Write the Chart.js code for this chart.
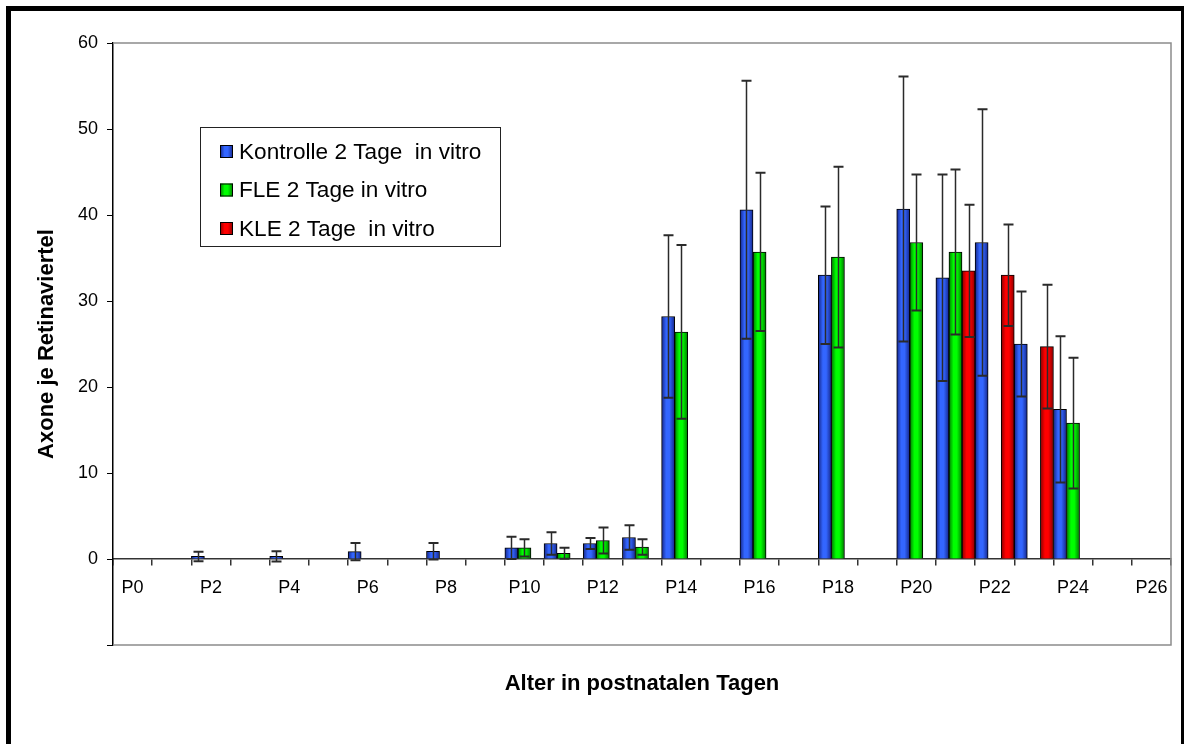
<!DOCTYPE html>
<html>
<head>
<meta charset="utf-8">
<script src="https://cdn.jsdelivr.net/npm/chart.js@4/dist/chart.umd.min.js"></script>
<style>
html, body { margin: 0; padding: 0; background: #fff; }
</style>
</head>
<body>
<canvas id="grafico" width="1184" height="744"></canvas>
<script>
// Kategorien: postnatale Tage P0..P26
var tage = ['P0','P1','P2','P3','P4','P5','P6','P7','P8','P9','P10','P11','P12','P13',
            'P14','P15','P16','P17','P18','P19','P20','P21','P22','P23','P24','P25','P26'];

// Mittelwerte (Axone je Retinaviertel)
var kontrolle = [0, null, 0.3, null, 0.3, null, 0.85, null, 0.9, null, 1.3, 1.8, 1.8, 2.5,
                 28.2, null, 40.6, null, 33.0, null, 40.7, 32.7, 36.8, 25.0, 17.4, null, null];
var fle       = [null, null, null, null, null, null, null, null, null, null, 1.3, 0.67, 2.15, 1.4,
                 26.4, null, 35.7, null, 35.1, null, 36.8, 35.7, null, null, 15.8, null, null];
var kle       = [null, null, null, null, null, null, null, null, null, null, null, null, null, null,
                 null, null, null, null, null, null, null, 33.5, 33.0, 24.7, null, null, null];

// Standardabweichungen
var kontrolleFehler = [0, null, 0.55, null, 0.6, null, 1.0, null, 0.95, null, 1.3, 1.3, 0.63, 1.43,
                       9.45, null, 15.0, null, 8.0, null, 15.4, 12.0, 15.5, 6.1, 8.5, null, null];
var fleFehler       = [null, null, null, null, null, null, null, null, null, null, 1.0, 0.65, 1.5, 0.9,
                       10.1, null, 9.2, null, 10.5, null, 7.9, 9.6, null, null, 7.6, null, null];
var kleFehler       = [null, null, null, null, null, null, null, null, null, null, null, null, null, null,
                       null, null, null, null, null, null, null, 7.7, 5.9, 7.2, null, null, null];

var yTicks = [-10, 0, 10, 20, 30, 40, 50, 60];

var schrift = 'Liberation Sans, Arial, sans-serif';
var farben = [
    { dunkel: '#15268a', hell: '#3366ff' },
    { dunkel: '#007a00', hell: '#00ff00' },
    { dunkel: '#8a0000', hell: '#ff0000' }
];

function verlauf(ctx, links, breite, f){
    var g = ctx.createLinearGradient(links, 0, links + breite, 0);
    g.addColorStop(0, f.dunkel);
    g.addColorStop(0.35, f.hell);
    g.addColorStop(0.6, f.hell);
    g.addColorStop(1, f.dunkel);
    return g;
}

function balkenFarbe(f){
    return function(context){
        var chart = context.chart;
        var x = chart.scales.x;
        if(!x || context.type !== 'data' || !x.width) return f.hell;
        var kat = x.width / tage.length;
        var breite = kat / 3;
        var links = x.getPixelForValue(context.dataIndex) - kat/2 + context.datasetIndex*breite;
        return verlauf(chart.ctx, links, breite, f);
    };
}

var hintergrund = {
    id: 'hintergrund',
    beforeDraw(chart){
        var ctx = chart.ctx;
        ctx.save();
        ctx.fillStyle = '#fff';
        ctx.fillRect(0, 0, chart.width, chart.height);
        ctx.restore();
    }
};

var fehlerbalken = {
    id: 'fehlerbalken',
    afterDatasetsDraw(chart){
        var ctx = chart.ctx, y = chart.scales.y;
        var fehler = [kontrolleFehler, fleFehler, kleFehler];
        ctx.save();
        ctx.strokeStyle = '#2a2a2a';
        fehler.forEach(function(reihe, d){
            var meta = chart.getDatasetMeta(d);
            meta.data.forEach(function(bar, i){
                var wert = chart.data.datasets[d].data[i];
                if(wert === null || reihe[i] === null || !reihe[i]) return;
                var oben = y.getPixelForValue(wert + reihe[i]);
                var unten = y.getPixelForValue(wert - reihe[i]);
                var xm = Math.round(bar.x) + 0.5;
                ctx.lineWidth = 1.5;
                ctx.beginPath();
                ctx.moveTo(xm, oben); ctx.lineTo(xm, unten);
                ctx.stroke();
                ctx.lineWidth = 2;
                ctx.beginPath();
                ctx.moveTo(xm - 5, oben); ctx.lineTo(xm + 5, oben);
                ctx.moveTo(xm - 5, unten); ctx.lineTo(xm + 5, unten);
                ctx.stroke();
            });
        });
        ctx.restore();
    }
};

var rahmen = {
    id: 'rahmen',
    afterDraw(chart){
        var ctx = chart.ctx, a = chart.chartArea;
        ctx.save();
        // Rand der Zeichenfläche
        ctx.strokeStyle = '#8c8c8c';
        ctx.lineWidth = 1.5;
        ctx.beginPath();
        ctx.moveTo(a.left, a.top); ctx.lineTo(a.right, a.top);
        ctx.lineTo(a.right, a.bottom); ctx.lineTo(a.left, a.bottom);
        ctx.stroke();

        // Achsentitel
        ctx.fillStyle = '#000';
        ctx.font = 'bold 22px ' + schrift;
        ctx.textAlign = 'center';
        ctx.textBaseline = 'middle';
        ctx.fillText('Alter in postnatalen Tagen', (a.left + a.right)/2, 684);
        ctx.translate(47, (a.top + a.bottom)/2);
        ctx.rotate(-Math.PI/2);
        ctx.fillText('Axone je Retinaviertel', 0, 0);
        ctx.setTransform(1, 0, 0, 1, 0, 0);

        // Legende
        ctx.fillStyle = '#fff';
        ctx.fillRect(200, 127, 300, 120);
        ctx.strokeStyle = '#222';
        ctx.lineWidth = 1;
        ctx.strokeRect(200.5, 127.5, 300, 119);
        ctx.font = '22.6px ' + schrift;
        ctx.textAlign = 'left';
        chart.data.datasets.forEach(function(ds, i){
            var yy = 151.5 + i*38.5;
            ctx.fillStyle = verlauf(ctx, 220, 13, farben[i]);
            ctx.fillRect(220, yy - 6.5, 13, 13);
            ctx.strokeStyle = '#000';
            ctx.strokeRect(220.5, yy - 6, 12, 12);
            ctx.fillStyle = '#000';
            ctx.fillText(ds.label, 239, yy + 1);
        });

        // äußerer Rahmen
        ctx.fillStyle = '#000';
        ctx.fillRect(6, 6, 1178, 5);
        ctx.fillRect(6, 6, 5, 738);
        ctx.fillRect(1181, 6, 5, 738);
        ctx.restore();
    }
};

function reihe(label, daten, i){
    return {
        label: label,
        data: daten,
        backgroundColor: balkenFarbe(farben[i]),
        borderColor: '#000',
        borderWidth: 1,
        categoryPercentage: 1,
        barPercentage: 1
    };
}

var config = {
    type: 'bar',
    data: {
        labels: tage,
        datasets: [
            reihe('Kontrolle 2 Tage  in vitro', kontrolle, 0),
            reihe('FLE 2 Tage in vitro', fle, 1),
            reihe('KLE 2 Tage  in vitro', kle, 2)
        ]
    },
    options: {
        responsive: false,
        animation: false,
        devicePixelRatio: 1,
        layout: { padding: { left: 0, top: 43, right: 13, bottom: 99 } },
        plugins: {
            legend: { display: false },
            tooltip: { enabled: false }
        },
        scales: {
            x: {
                type: 'category',
                position: { y: 0 },
                offset: true,
                grid: { offset: true, drawOnChartArea: false, tickLength: 6, tickColor: '#333', lineWidth: 1.5 },
                border: { color: '#333', width: 1.5 },
                ticks: {
                    autoSkip: false,
                    maxRotation: 0,
                    padding: 12,
                    color: '#000',
                    font: { family: schrift, size: 18 },
                    callback: function(v, i){ return i % 2 === 0 ? tage[i] : ''; }
                }
            },
            y: {
                min: yTicks[0],
                max: yTicks[yTicks.length - 1],
                afterFit: function(scale){ scale.width = 113; },
                afterBuildTicks: function(scale){ scale.ticks = yTicks.map(function(v){ return { value: v }; }); },
                grid: { drawOnChartArea: false, tickLength: 6, tickColor: '#000' },
                border: { color: '#000', width: 1.5 },
                ticks: {
                    padding: 9,
                    color: '#000',
                    font: { family: schrift, size: 18 },
                    callback: function(v){ return v < 0 ? '' : v; }
                }
            }
        }
    },
    plugins: [hintergrund, fehlerbalken, rahmen]
};

var grafik = new Chart(document.getElementById('grafico'), config);
grafik.update();
</script>
</body>
</html>
